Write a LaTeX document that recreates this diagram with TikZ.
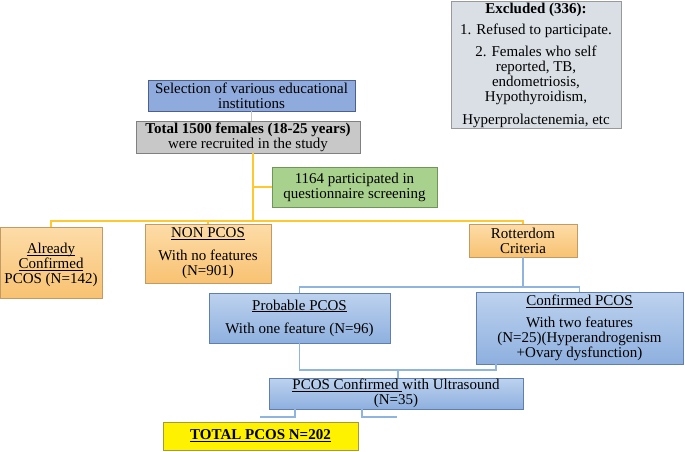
\documentclass[tikz,border=0pt]{standalone}
\usepackage{fontspec}
\setmainfont{Liberation Serif}
\usetikzlibrary{positioning}
\definecolor{selfill}{HTML}{8FAADC}
\definecolor{selbord}{HTML}{4F5F8C}
\definecolor{totfill}{HTML}{C8C8C8}
\definecolor{grnfill}{HTML}{A9D18E}
\definecolor{grnbord}{HTML}{6F9656}
\definecolor{exfill}{HTML}{DADFE6}
\definecolor{ortop}{HTML}{FDDCA8}
\definecolor{orbot}{HTML}{F8C272}
\definecolor{orbord}{HTML}{C39A62}
\definecolor{bltop}{HTML}{BDD2EE}
\definecolor{blbot}{HTML}{8EB0DF}
\definecolor{blbord}{HTML}{5F7FAE}
\definecolor{ylbord}{HTML}{A39B3A}
\definecolor{lineyel}{HTML}{FFC92E}
\definecolor{lineblu}{HTML}{8FB5DE}
\newcommand\ulin[1]{\underline{\raisebox{0pt}[\height][0pt]{#1}}}
\tikzset{
    box/.style = {rectangle, draw, inner sep=1pt, align=center, font=\fontsize{15}{15}\selectfont},
    boxs/.style = {box, draw=selbord, fill=selfill},
    boxt/.style = {box, draw=gray, fill=totfill},
    boxg/.style = {box, draw=grnbord, fill=grnfill},
    boxx/.style = {box, draw=gray!80, fill=exfill},
    boxo/.style = {box, draw=orbord, top color=ortop, bottom color=orbot},
    boxb/.style = {box, draw=blbord, top color=bltop, bottom color=blbot},
    boxy/.style = {box, draw=ylbord, fill=yellow},
    edgey/.style = {draw=lineyel, line width=1.6pt},
    edgeb/.style = {draw=lineblu, line width=1.5pt},
    edgeg/.style = {draw=gray!45, line width=1pt},
}

\begin{document}
\begin{tikzpicture}[x=1pt,y=-1pt]
\useasboundingbox (0,0) rectangle (685,452);
%
\node[boxs, minimum width=207pt, minimum height=31pt] at (251.5,95.5) (sel) {Selection of various educational\\institutions};
\node[boxt, minimum width=224pt, minimum height=32pt] at (248,137) (total) {\textbf{Total 1500 females (18-25 years)}\\were recruited in the study};
\node[boxg, minimum width=165pt, minimum height=40pt] at (354.5,187) (scr) {1164 participated in\\questionnaire screening};
\node[boxx, minimum width=170pt, minimum height=124pt] at (536,65) (excl) {\textbf{Excluded (336):}\\[6pt]1. Refused to participate.\\[7pt]2. Females who self\\reported, TB,\\endometriosis,\\Hypothyroidism,\\[8pt]Hyperprolactenemia, etc};
%
\node[boxo, minimum width=102pt, minimum height=71pt] at (51,262.5) (already) {\rule{0pt}{16pt}\ulin{Already}\\\ulin{Confirmed}\\PCOS (N=142)};
\node[boxo, minimum width=126pt, minimum height=59pt] at (208,253.5) (nonpcos) {\ulin{NON PCOS}\\[8pt]With no features\\(N=901)};
\node[boxo, minimum width=108pt, minimum height=33pt] at (523,240.5) (rott) {Rotterdom\\Criteria};
%
\node[boxb, minimum width=181pt, minimum height=50pt] at (299.5,318) (prob) {\ulin{Probable PCOS}\\[8pt]With one feature (N=96)};
\node[boxb, minimum width=207pt, minimum height=72pt] at (579.5,328) (conf) {\ulin{Confirmed PCOS}\\[7pt]With two features\\(N=25)(Hyperandrogenism\\+Ovary dysfunction)};
\node[boxb, minimum width=254pt, minimum height=31pt] at (396,393.5) (ultra) {\ulin{PCOS Confirmed\ }with Ultrasound\\(N=35)};
\node[boxy, minimum width=195pt, minimum height=28pt] at (260.5,436) (tpcos) {\textbf{\ulin{TOTAL PCOS N=202}}};
%
\coordinate (ybus) at (253,221);
\coordinate (bbus) at (523,287);
\coordinate (ubus) at (398,370);
\coordinate (tbusl) at (260,417);
\coordinate (tbusr) at (397,417);
%
\draw[edgeg] (sel.south) -- (sel.south |- total.north);
\draw[edgey] (ybus |- total.south) -- (ybus);
\draw[edgey] (ybus |- scr.west) -- (scr.west);
\draw[edgey] (ybus) -| (already.north);
\draw[edgey] (ybus) -| (nonpcos.north);
\draw[edgey] (ybus) -| (rott.north);
%
\draw[edgeb] (rott.south) -- (bbus);
\draw[edgeb] (bbus) -| (prob.north);
\draw[edgeb] (bbus) -| (conf.north);
\draw[edgeb] (prob.south) |- (ubus);
\draw[edgeb] (ubus) -| ([xshift=20pt]conf.south west);
\draw[edgeb] (ubus) -- (ubus |- ultra.north);
\draw[edgeb] ([xshift=-101pt]ultra.south) |- (tbusl);
\draw[edgeb] ([xshift=-34pt]ultra.south) |- (tbusr);

\end{tikzpicture}
\end{document}
